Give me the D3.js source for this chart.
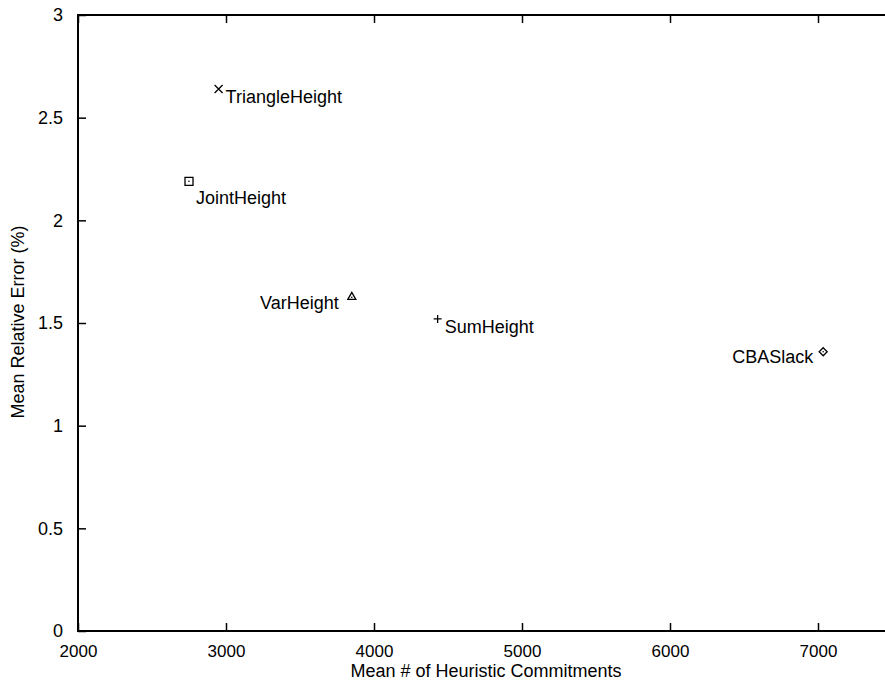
<!DOCTYPE html>
<html><head><meta charset="utf-8">
<script src="https://cdn.jsdelivr.net/npm/d3@7"></script>
<style>body{margin:0;background:#fff}svg{display:block}text{font-family:"Liberation Sans",Arial,sans-serif;fill:#000}</style>
</head><body>
<svg id="c" width="885" height="683"></svg>
<script>
const names = ["TriangleHeight","JointHeight","VarHeight","SumHeight","CBASlack"];
const commitments = [2950, 2750, 3850, 4430, 7035];
const errors = [2.64, 2.19, 1.63, 1.52, 1.36];
const markers = ["x","square","triangle","plus","diamond"];
const xTicks = [2000,3000,4000,5000,6000,7000];
const yTicks = [0,0.5,1,1.5,2,2.5,3];

const svg = d3.select("#c");
const x = d3.scaleLinear().domain([2000,7500]).range([78, 892]);
const y = d3.scaleLinear().domain([0,3]).range([631, 15]);

const g = svg.append("g");
// frame
g.append("rect").attr("x",x(2000)).attr("y",y(3)).attr("width",x(7500)-x(2000)).attr("height",y(0)-y(3))
 .attr("fill","none").attr("stroke","#000").attr("stroke-width",2);

// bottom axis ticks inward
const xb = g.append("g").attr("transform",`translate(0,${y(0)})`)
 .call(d3.axisBottom(x).tickValues(xTicks).tickSize(-8).tickPadding(14).tickFormat(d3.format("d")));
xb.select(".domain").remove();
xb.selectAll("text").attr("font-size",17);
const xt = g.append("g").attr("transform",`translate(0,${y(3)})`)
 .call(d3.axisTop(x).tickValues(xTicks).tickSize(-8).tickFormat(""));
xt.select(".domain").remove();

const yl = g.append("g").attr("transform",`translate(${x(2000)},0)`)
 .call(d3.axisLeft(y).tickValues(yTicks).tickSize(-8).tickPadding(15).tickFormat(d3.format("")));
yl.select(".domain").remove();
yl.selectAll("text").attr("font-size",18);
g.selectAll(".tick line").attr("stroke","#000").attr("stroke-width",1.5);

// axis titles
svg.append("text").attr("x",486).attr("y",677).attr("text-anchor","middle").attr("font-size",18)
 .text("Mean # of Heuristic Commitments");
svg.append("text").attr("transform","translate(24,322) rotate(-90)").attr("text-anchor","middle").attr("font-size",18)
 .text("Mean Relative Error (%)");

// markers
function markerPath(t){
  const s=4;
  switch(t){
    case "x": return `M${-s},${-s}L${s},${s}M${-s},${s}L${s},${-s}`;
    case "plus": return `M${-s},0L${s},0M0,${-s}L0,${s}`;
    case "square": return `M${-s},${-s}H${s}V${s}H${-s}Z`;
    case "triangle": return `M0,${-s}L${s},${s*0.75}L${-s},${s*0.75}Z`;
    case "diamond": return `M0,${-s}L${s},0L0,${s}L${-s},0Z`;
  }
}
const data = names.map((n,i)=>({n, cx:commitments[i], e:errors[i], m:markers[i]}));
const labelPos = {
  TriangleHeight:{dx:7,dy:9,anchor:"start"},
  JointHeight:{dx:7,dy:18,anchor:"start"},
  VarHeight:{dx:-13,dy:8,anchor:"end"},
  SumHeight:{dx:7,dy:9,anchor:"start"},
  CBASlack:{dx:-10,dy:7,anchor:"end"}
};
const pts = svg.selectAll("g.pt").data(data).join("g").attr("class","pt")
 .attr("transform",d=>`translate(${x(d.cx)},${y(d.e)})`);
pts.append("path").attr("d",d=>markerPath(d.m)).attr("fill","none").attr("stroke","#000").attr("stroke-width",1.3);
pts.filter(d=>d.m==="square"||d.m==="triangle"||d.m==="diamond")
 .append("circle").attr("r",0.8).attr("cy",d=>d.m==="triangle"?1:0).attr("fill","#000");
pts.append("text").attr("x",d=>labelPos[d.n].dx).attr("y",d=>labelPos[d.n].dy)
 .attr("dominant-baseline","middle").attr("text-anchor",d=>labelPos[d.n].anchor)
 .attr("font-size",18).text(d=>d.n);
</script>
</body></html>
